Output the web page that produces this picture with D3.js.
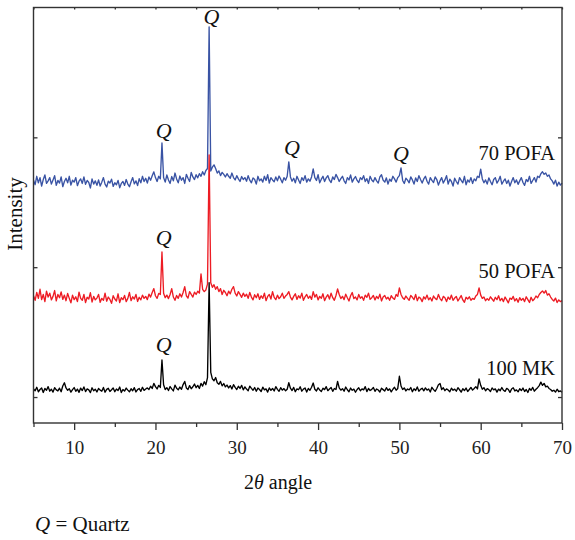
<!DOCTYPE html>
<html><head><meta charset="utf-8">
<script src="https://cdn.jsdelivr.net/npm/d3@7"></script>
<style>body{margin:0;background:#fff}</style>
</head><body><svg id="c" width="575" height="540"></svg>
<script>
// ---- data ----
const angleStart = 5, angleStep = 0.2;           // 2θ sampling grid (degrees)
const seriesNames = ["70 POFA", "50 POFA", "100 MK"];
const xTickValues = [10, 20, 30, 40, 50, 60, 70];
const xMinorTicks = [5, 15, 25, 35, 45, 55, 65];
const yTickValues = [0, 1000, 2000];

const mk100 = [
62,48,75,40,58,70,35,66,52,80,
45,60,38,72,55,47,68,41,85,110,
70,52,64,38,57,73,44,61,36,69,
50,78,42,63,55,34,71,48,60,39,
66,53,45,74,37,59,67,43,56,70,
41,62,50,77,35,58,46,69,53,40,
64,48,72,39,57,66,44,75,51,62,
70,58,83,66,105,80,62,90,74,285,
95,58,72,50,81,63,47,92,68,55,
77,60,96,120,70,58,88,64,79,100,
72,90,66,105,84,118,95,150,880,190,
140,125,150,110,98,120,86,104,78,92,
70,88,62,95,74,58,83,66,90,55,
78,61,49,84,67,52,73,45,69,58,
42,76,55,63,38,70,51,66,47,80,
59,44,72,53,65,48,60,110,68,50,
74,41,63,56,79,45,61,70,38,66,
52,75,108,60,47,71,55,43,68,57,
80,49,62,73,44,66,58,120,70,53,
64,45,77,56,40,69,52,61,37,58,
71,48,63,55,80,42,66,50,59,73,
44,62,54,38,68,57,46,72,51,63,
40,60,75,52,66,160,85,58,70,47,
62,55,73,41,64,50,78,45,59,68,
48,70,53,62,39,75,57,44,66,95,
104,58,71,49,63,54,40,68,52,61,
45,72,56,38,64,50,69,43,58,74,
53,66,80,62,140,90,60,72,48,65,
57,42,70,55,63,38,61,49,73,52,
44,67,58,36,62,71,47,55,40,64,
50,69,43,58,35,66,52,74,45,60,
72,88,115,90,105,78,84,66,58,45,
52,38,60,41,47,36];

const pofa50 = [
780,745,805,760,830,750,790,735,815,770,
800,748,775,820,740,790,765,810,752,785,
742,798,760,725,785,750,772,735,808,760,
745,790,728,768,755,803,732,775,748,762,
790,730,760,745,800,738,770,752,722,780,
755,740,795,728,765,750,782,735,760,805,
742,772,755,790,736,768,748,785,760,775,
750,792,770,805,835,780,760,798,790,1117,
800,765,785,758,790,835,770,745,782,760,
795,770,805,850,780,762,812,790,770,808,
790,815,800,948,830,812,825,870,1865,880,
845,865,830,850,812,835,790,822,805,780,
815,795,830,850,800,778,812,790,768,800,
775,792,760,805,770,748,788,765,795,752,
780,760,800,742,775,790,755,812,768,750,
785,758,772,800,760,778,790,812,770,748,
775,795,752,780,762,800,745,772,790,760,
778,752,812,770,790,748,775,760,795,742,
770,788,755,800,765,745,782,832,790,758,
775,750,792,765,740,780,805,758,770,748,
790,760,772,745,785,768,800,752,765,782,
748,775,758,792,740,770,782,755,768,745,
780,762,752,790,775,840,790,765,752,778,
760,745,782,768,750,790,742,770,760,735,
772,755,785,748,765,740,778,760,750,790,
758,742,775,765,735,770,752,785,745,762,
775,740,760,782,748,730,768,755,772,745,
760,752,778,790,840,785,760,770,742,758,
745,772,755,738,768,750,780,742,760,735,
770,748,725,762,752,775,740,758,730,765,
745,760,735,772,750,728,768,742,755,778,
765,790,805,817,800,820,785,795,770,752,
740,762,728,748,735,742];

const pofa70 = [
1670,1635,1700,1650,1690,1625,1675,1710,1645,1665,
1690,1640,1672,1705,1630,1668,1648,1695,1620,1660,
1685,1650,1700,1632,1670,1655,1690,1628,1662,1680,
1645,1695,1638,1668,1652,1610,1680,1640,1665,1630,
1672,1625,1655,1690,1640,1618,1662,1648,1678,1622,
1650,1635,1668,1612,1645,1660,1630,1675,1640,1620,
1658,1690,1642,1665,1628,1682,1650,1700,1660,1685,
1648,1695,1670,1705,1734,1690,1660,1700,1680,1957,
1690,1655,1710,1672,1645,1698,1665,1725,1680,1650,
1702,1670,1690,1645,1715,1685,1660,1730,1695,1675,
1712,1688,1720,1700,1735,1710,1745,1760,2851,1740,
1770,1788,1760,1725,1742,1705,1730,1715,1695,1720,
1700,1685,1725,1690,1672,1705,1680,1660,1698,1675,
1690,1662,1705,1670,1650,1688,1675,1640,1700,1665,
1680,1655,1700,1668,1712,1648,1690,1672,1658,1695,
1665,1702,1678,1650,1690,1670,1700,1811,1695,1662,
1685,1650,1700,1672,1645,1690,1668,1705,1655,1680,
1662,1695,1757,1690,1668,1712,1650,1678,1700,1660,
1688,1705,1670,1652,1695,1675,1715,1690,1660,1682,
1700,1665,1645,1690,1672,1710,1655,1680,1698,1668,
1652,1690,1675,1705,1660,1682,1645,1700,1672,1658,
1690,1665,1648,1695,1712,1670,1655,1688,1640,1678,
1662,1700,1680,1655,1690,1705,1765,1668,1645,1685,
1670,1650,1695,1672,1640,1688,1660,1705,1675,1648,
1680,1700,1662,1640,1690,1668,1652,1695,1675,1632,
1665,1690,1648,1672,1705,1640,1678,1660,1625,1685,
1660,1640,1690,1668,1650,1700,1635,1672,1655,1690,
1645,1680,1665,1700,1690,1755,1680,1650,1672,1640,
1688,1660,1635,1675,1690,1648,1668,1700,1640,1662,
1680,1645,1670,1625,1660,1690,1650,1672,1638,1665,
1690,1652,1630,1675,1660,1700,1645,1668,1690,1655,
1700,1690,1720,1735,1715,1726,1700,1710,1680,1665,
1640,1670,1625,1655,1632,1648];

// Quartz peak annotations (angle, intensity level of the label)
const quartzAngles = [26.9, 21.0, 36.8, 50.2, 21.0, 21.0];
const quartzLevels = [2874, 1996, 1865, 1818, 1171, 347];
// series name labels (right end angle, intensity level)
const nameAngles = [69.15, 69.15, 69.15];
const nameLevels = [1826, 917, 170];

// ---- chart ----
const colors = ["#3953a4", "#ed1c24", "#000000"];
const seriesData = [pofa70, pofa50, mk100];
const W = 575, H = 540;
const m = {l: 33.5, r: 13, t: 7.5, b: 117};
const svg = d3.select("#c");
const x = d3.scaleLinear().domain([5, 70]).range([m.l, W - m.r]);
const y = d3.scaleLinear().domain([-200, 3000]).range([H - m.b, m.t]);
const serif = "'Liberation Serif','Times New Roman',serif";

const line = d3.line()
  .x((d, i) => x(angleStart + i * angleStep))
  .y(d => y(d));

const g = svg.append("g");
seriesData.forEach((s, k) => {
  g.append("path").datum(s)
    .attr("fill", "none")
    .attr("stroke", colors[k])
    .attr("stroke-width", 1.35)
    .attr("stroke-linejoin", "round")
    .attr("d", line);
});

// axes
const axColor = "#333";
const axBottom = svg.append("g").attr("transform", `translate(0,${H - m.b})`)
  .call(d3.axisBottom(x).tickValues(xTickValues).tickSize(7).tickPadding(11).tickFormat(d3.format("d")));
const axBottomMinor = svg.append("g").attr("transform", `translate(0,${H - m.b})`)
  .call(d3.axisBottom(x).tickValues(xMinorTicks).tickSize(4).tickFormat(""));
const axTop = svg.append("g").attr("transform", `translate(0,${m.t})`)
  .call(d3.axisTop(x).tickValues(xTickValues.concat(xMinorTicks)).tickSize(-2).tickFormat(""));
const axLeft = svg.append("g").attr("transform", `translate(${m.l},0)`)
  .call(d3.axisLeft(y).tickValues(yTickValues).tickSize(-4).tickFormat(""));
const axRight = svg.append("g").attr("transform", `translate(${W - m.r},0)`)
  .call(d3.axisRight(y).tickValues(yTickValues).tickSize(-4).tickFormat(""));
[axBottom, axBottomMinor, axTop, axLeft, axRight].forEach(a => {
  a.select(".domain").remove();
  a.selectAll("line").attr("stroke", axColor).attr("stroke-width", 1.3);
  a.selectAll("text").attr("font-family", serif).attr("font-size", 19).attr("fill", "#222");
});
svg.append("rect")
  .attr("x", m.l).attr("y", m.t)
  .attr("width", W - m.r - m.l).attr("height", H - m.b - m.t)
  .attr("fill", "none").attr("stroke", axColor).attr("stroke-width", 1.4);

// Q labels
svg.append("g").selectAll("text").data(quartzAngles).join("text")
  .attr("x", d => x(d)).attr("y", (d, i) => y(quartzLevels[i]))
  .attr("text-anchor", "middle")
  .attr("font-family", serif).attr("font-style", "italic").attr("font-size", 22)
  .attr("fill", "#111").text("Q");

// series names
svg.append("g").selectAll("text").data(seriesNames).join("text")
  .attr("x", (d, i) => x(nameAngles[i])).attr("y", (d, i) => y(nameLevels[i]))
  .attr("text-anchor", "end")
  .attr("font-family", serif).attr("font-size", 20.5)
  .attr("fill", "#111").text(d => d);

// axis titles
const xt = svg.append("text").attr("x", 278).attr("y", 489)
  .attr("text-anchor", "middle").attr("font-family", serif).attr("font-size", 20).attr("fill", "#111");
xt.append("tspan").text("2");
xt.append("tspan").attr("font-style", "italic").text("θ");
xt.append("tspan").text(" angle");

svg.append("text").attr("transform", "translate(22,214) rotate(-90)")
  .attr("text-anchor", "middle").attr("font-family", serif).attr("font-size", 21)
  .attr("fill", "#111").text("Intensity");

const qt = svg.append("text").attr("x", 35).attr("y", 531)
  .attr("font-family", serif).attr("font-size", 21).attr("fill", "#111");
qt.append("tspan").attr("font-style", "italic").text("Q");
qt.append("tspan").text(" = Quartz");
</script></body></html>
